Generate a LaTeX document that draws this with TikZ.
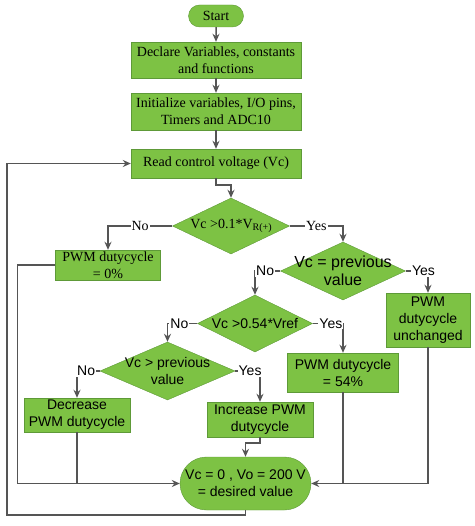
\documentclass[tikz,border=0pt]{standalone}
\usepackage{fontspec}
\setmainfont{Liberation Serif}
\setsansfont{Liberation Sans}
\usepackage{tikz}
\usetikzlibrary{shapes.geometric, shapes.misc, arrows.meta, positioning}

\definecolor{boxgreen}{HTML}{7DC244}
\definecolor{edgegreen}{HTML}{5E9A38}
\definecolor{linegray}{HTML}{555555}

\begin{document}
\begin{tikzpicture}[x=1pt, y=-1pt,
        every node/.style={font=\fontsize{14}{17}\selectfont},
        proc/.style={rectangle, draw=edgegreen, fill=boxgreen, align=center, inner sep=1pt},
        dec/.style={diamond, draw=edgegreen, fill=boxgreen, align=center, inner sep=-8pt},
        term/.style={rounded rectangle, draw=edgegreen, fill=boxgreen, align=center, inner sep=1pt},
        sans/.style={font=\fontsize{14}{17}\selectfont\sffamily},
        lbl/.style={fill=white, inner sep=1pt},
        flow/.style={draw=linegray, line width=1.5pt, -{Stealth[length=8pt, width=7pt]}},
        link/.style={draw=linegray, line width=1.5pt}]
        \useasboundingbox (0,0) rectangle (474,526);

        \node[term, minimum width=57pt, minimum height=22pt] (start) at (216,16) {Start};
        \node[proc, minimum width=170pt, minimum height=36pt] (declare) at (216,60) {Declare Variables, constants\\and functions};
        \node[proc, minimum width=170pt, minimum height=37pt] (init) at (216,111.5) {Initialize variables, I/O pins,\\Timers and ADC10};
        \node[proc, minimum width=170pt, minimum height=29pt] (read) at (216,163.5) {Read control voltage (Vc)};

        \node[dec, minimum width=117pt, minimum height=56pt, aspect=2.09] (vref) at (231,226) {Vc >0.1*V\raisebox{-0.3ex}{\fontsize{10}{12}\selectfont R(+)}};
        \node[proc, minimum width=105pt, minimum height=30pt] (zero) at (108,265) {PWM dutycycle\\= 0\%};
        \node[dec, sans, font=\fontsize{16}{18}\selectfont\sffamily, minimum width=125pt, minimum height=58pt, aspect=2.16] (same) at (343,271) {Vc = previous\\value};
        \node[proc, sans, minimum width=84pt, minimum height=54pt] (hold) at (428,320) {PWM\\dutycycle\\unchanged};
        \node[dec, sans, minimum width=115pt, minimum height=57pt, aspect=2.02] (high) at (255,323.5) {Vc >0.54*Vref};
        \node[proc, sans, minimum width=111pt, minimum height=39pt] (fix) at (343,372.5) {PWM dutycycle\\= 54\%};
        \node[dec, sans, minimum width=135pt, minimum height=58pt, aspect=2.33] (rise) at (167.5,371) {Vc > previous\\value};
        \node[proc, sans, minimum width=106pt, minimum height=34pt] (down) at (77,415) {Decrease\\PWM dutycycle};
        \node[proc, sans, minimum width=106pt, minimum height=35pt] (up) at (260,419.5) {Increase PWM\\dutycycle};
        \node[term, sans, minimum width=133pt, minimum height=53pt] (goal) at (245.5,483.5) {Vc = 0 , Vo = 200 V\\= desired value};

        \draw[flow] (start) -- (declare);
        \draw[flow] (declare) -- (init);
        \draw[flow] (init) -- (read);
        \draw[flow] (read.south) -- ++(0,7) -| (vref.north);

        \draw[flow] (vref.west) -| node[lbl, pos=0.25] {No} (zero.north);
        \draw[flow] (vref.east) -| node[lbl, pos=0.25] {Yes} (same.north);
        \draw[flow] (same.west) -| node[lbl, sans, pos=0.3] {No} (high.north);
        \draw[flow] (same.east) -| node[lbl, sans, pos=0.4] {Yes} (hold.north);
        \draw[flow] (high.west) -| node[lbl, sans, pos=0.3] {No} (rise.north);
        \draw[flow] (high.east) -| node[lbl, sans, pos=0.3] {Yes} (fix.north);
        \draw[flow] (rise.west) -| node[lbl, sans, pos=0.3] {No} (down.north);
        \draw[flow] (rise.east) -| node[lbl, sans, pos=0.3] {Yes} (up.north);

        % paths into the end block
        \draw[flow] (up.south) -- ++(0,6) -| (goal.north);
        \draw[flow] (zero.west) -- ++(-38,0) |- (goal.west);
        \draw[link] (down.south) -- (down.south |- goal.west);
        \draw[flow] (hold.south) |- (goal.east);
        \draw[link] (fix.south) -- (fix.south |- goal.east);

        % back to reading
        \draw[flow] (goal.south) -- ++(0,5) -| ([xshift=-124pt]read.west) -- (read.west);
    \end{tikzpicture}
\end{document}
